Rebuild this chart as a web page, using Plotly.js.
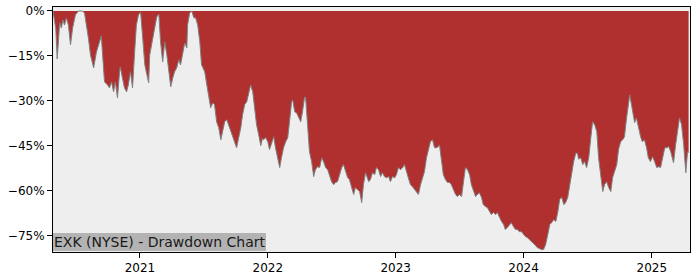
<!DOCTYPE html>
<html>
<head>
<meta charset="utf-8">
<script src="https://cdn.plot.ly/plotly-3.0.1.min.js"></script>
<style>html,body{margin:0;padding:0;background:#fff;}#chart{width:700px;height:280px;}</style>
</head>
<body>
<div id="chart"></div>
<script>
const dates = [
"2020-04-28","2020-05-02","2020-05-06","2020-05-10","2020-05-13","2020-05-17","2020-05-22","2020-05-26","2020-05-31","2020-06-05","2020-06-11","2020-06-17","2020-06-23","2020-07-01","2020-07-10","2020-07-21","2020-07-27","2020-08-02","2020-08-07","2020-08-13","2020-08-22","2020-08-30","2020-09-05","2020-09-13","2020-09-16","2020-09-22","2020-10-01","2020-10-06","2020-10-12","2020-10-18","2020-10-23","2020-10-29","2020-11-04","2020-11-06","2020-11-12","2020-11-18","2020-11-24","2020-11-29","2020-12-05","2020-12-11","2020-12-17","2020-12-22","2020-12-28",
"2021-01-03","2021-01-09","2021-01-15","2021-01-21","2021-01-26","2021-01-29","2021-02-07","2021-02-12","2021-02-18","2021-02-24","2021-03-01","2021-03-07","2021-03-13","2021-03-19","2021-03-24","2021-03-30","2021-04-05","2021-04-10","2021-04-16","2021-04-22","2021-04-27","2021-05-03","2021-05-09","2021-05-15","2021-05-17","2021-05-23","2021-05-29","2021-06-04","2021-06-09","2021-06-15","2021-06-21","2021-06-26","2021-07-05","2021-07-11","2021-07-16","2021-07-22","2021-07-28","2021-08-02","2021-08-08","2021-08-14","2021-08-20","2021-08-25","2021-08-31","2021-09-06","2021-09-11","2021-09-17","2021-09-23","2021-09-28","2021-10-04","2021-10-10","2021-10-16","2021-10-21","2021-10-27","2021-11-02","2021-11-07","2021-11-13","2021-11-19","2021-11-25","2021-11-30","2021-12-06","2021-12-12","2021-12-17","2021-12-20","2021-12-26",
"2022-01-01","2022-01-06","2022-01-12","2022-01-18","2022-01-23","2022-01-29","2022-02-04","2022-02-09","2022-02-15","2022-02-21","2022-02-27","2022-03-04","2022-03-10","2022-03-13","2022-03-19","2022-03-24","2022-03-30","2022-04-05","2022-04-10","2022-04-16","2022-04-19","2022-04-25","2022-04-30","2022-05-06","2022-05-12","2022-05-17","2022-05-23","2022-05-29","2022-06-04","2022-06-09","2022-06-15","2022-06-21","2022-06-26","2022-07-02","2022-07-08","2022-07-13","2022-07-19","2022-07-25","2022-07-31","2022-08-05","2022-08-11","2022-08-17","2022-08-22","2022-08-28","2022-09-03","2022-09-08","2022-09-14","2022-09-20","2022-09-26","2022-10-01","2022-10-07","2022-10-13","2022-10-16","2022-10-21","2022-10-27","2022-11-02","2022-11-07","2022-11-13","2022-11-19","2022-11-24","2022-11-30","2022-12-06","2022-12-12","2022-12-17","2022-12-23","2022-12-29",
"2023-01-03","2023-01-09","2023-01-15","2023-01-21","2023-01-26","2023-02-01","2023-02-07","2023-02-12","2023-02-18","2023-02-24","2023-03-01","2023-03-07","2023-03-13","2023-03-19","2023-03-24","2023-03-30","2023-04-05","2023-04-10","2023-04-16","2023-04-22","2023-04-27","2023-05-03","2023-05-06","2023-05-12","2023-05-17","2023-05-23","2023-05-29","2023-06-04","2023-06-09","2023-06-15","2023-06-21","2023-06-26","2023-07-02","2023-07-08","2023-07-13","2023-07-19","2023-07-25","2023-07-31","2023-08-05","2023-08-11","2023-08-17","2023-08-22","2023-08-28","2023-09-03","2023-09-08","2023-09-14","2023-09-20","2023-09-26","2023-10-01","2023-10-07","2023-10-13","2023-10-18","2023-10-24","2023-10-30","2023-11-05","2023-11-10","2023-11-16","2023-11-22","2023-11-27","2023-12-03","2023-12-09","2023-12-14","2023-12-20","2023-12-26",
"2024-01-01","2024-01-06","2024-01-12","2024-01-18","2024-01-23","2024-01-29","2024-02-04","2024-02-09","2024-02-15","2024-02-21","2024-02-27","2024-03-04","2024-03-10","2024-03-16","2024-03-21","2024-03-27","2024-04-02","2024-04-08","2024-04-13","2024-04-19","2024-04-25","2024-04-30","2024-05-06","2024-05-12","2024-05-17","2024-05-23","2024-05-29","2024-06-03","2024-06-06","2024-06-12","2024-06-18","2024-06-23","2024-06-29","2024-07-05","2024-07-11","2024-07-16","2024-07-22","2024-07-28","2024-08-02","2024-08-08","2024-08-14","2024-08-19","2024-08-25","2024-08-31","2024-09-06","2024-09-11","2024-09-17","2024-09-23","2024-09-28","2024-10-04","2024-10-10","2024-10-15","2024-10-21","2024-10-27","2024-10-30","2024-11-04","2024-11-10","2024-11-13","2024-11-18","2024-11-24","2024-11-30","2024-12-05","2024-12-11","2024-12-17","2024-12-22","2024-12-28",
"2025-01-03","2025-01-09","2025-01-15","2025-01-21","2025-01-26","2025-02-01","2025-02-07","2025-02-12","2025-02-18","2025-02-24","2025-03-01","2025-03-04","2025-03-10","2025-03-16","2025-03-21","2025-03-27","2025-04-02","2025-04-08","2025-04-13","2025-04-16"
];
const drawdownPct = [
0,-3,-6,-16,-9,-4,-5.7,-3,-4.7,-2.3,-4.7,-11.3,-5.7,-1.3,0,0,-0.7,-4.7,-9,-14.7,-19,-13.7,-11.3,-8.3,-13.7,-23.7,-24.7,-25.7,-23.7,-27,-23.7,-29,-20.3,-18.7,-22.3,-25.7,-27,-24.7,-20.3,-25.7,-13.7,-4.7,-1.3,
-0.3,-9,-18,-21.3,-24,-14.7,-9,-6,-2,-1,-10.3,-17,-10.3,-14.7,-20.3,-25.3,-22.3,-20.3,-19,-16.3,-18,-14.7,-10.7,-12.3,-4.7,-0.7,0,-2.3,-2.3,-4.7,-10.3,-18,-20.3,-24.7,-28,-32.3,-30.7,-31.3,-37,-39,-43,-40.7,-37,-36.3,-38,-40.3,-42,-43.7,-45.7,-42.3,-39,-34.7,-31.3,-30.3,-28,-24.7,-27,-32.3,-38,-41.3,-45,-42.5,-43,-42.3,
-43.7,-46.3,-43.7,-42,-45.7,-49,-52.3,-49,-45.7,-43.7,-42.3,-37,-30.3,-29.7,-33.7,-34,-35.7,-37,-33.7,-28.7,-29,-40.3,-47,-50.3,-55.3,-53,-52,-52.3,-49,-50.3,-52.3,-53,-54.7,-57,-58,-57.3,-57,-54.7,-52.3,-51.3,-53.7,-55.7,-56.3,-58.7,-61.3,-59,-59.7,-60.3,-64,-58,-54,-55.7,-57,-56.3,-54,-54.7,-52.3,-53,-55.3,-54,-55.3,-55.7,-55.3,-57,-55.3,-55.7,
-54.7,-52.3,-53,-52.3,-51.3,-53.7,-55.7,-58,-58.7,-59.7,-60.3,-61.3,-58,-55.3,-53.7,-49,-45.7,-43.7,-43,-45.7,-45.7,-45.3,-44.7,-50.3,-54.7,-56.3,-57.3,-57.3,-58,-59.7,-61.3,-62,-61.3,-62,-58,-52.3,-53,-54.7,-58,-60.3,-62,-61.3,-60.7,-62.3,-64.7,-65.3,-65.7,-67,-68,-67.3,-68,-67.3,-69,-70.3,-71.3,-73,-72.3,-71.3,-70.7,-72,-73,-73,-73.7,-73.7,
-74.7,-75.3,-75.7,-76.3,-77,-77.7,-78.3,-79,-79.3,-79.7,-79.7,-78,-74.7,-71.3,-70.7,-69.7,-70.3,-67,-63,-62.3,-64.7,-64,-62.3,-58,-53.7,-50.3,-47.5,-47.5,-49.5,-49,-51.3,-50.3,-52.3,-49,-42.3,-37,-38,-40.3,-49,-55.7,-60.3,-58,-57,-59,-60.3,-55.7,-53.7,-51.3,-46.3,-43.7,-43,-42,-35.7,-29,-28,-31.3,-35.7,-37.3,-35.7,-39,-42,-43.7,-43,-45.7,-49,-50.3,
-48.7,-50.3,-52.3,-52,-52.3,-49,-45.7,-45.7,-45.3,-47,-49,-50.7,-44.7,-39,-35.7,-38,-44.7,-54,-47,-47.3
];
const xTickVals = ["2021-01-01","2022-01-01","2023-01-01","2024-01-01","2025-01-01"];
const xTickText = ["2021","2022","2023","2024","2025"];
const yTickVals = [0,-15,-30,-45,-60,-75];
const yTickText = ["0%","\u221215%","\u221230%","\u221245%","\u221260%","\u221275%"];
const chartLabel = "EXK (NYSE) - Drawdown Chart";

const font = {family: "DejaVu Sans", size: 12, color: "#000"};
const trace = {
  type: "scatter", mode: "lines", x: dates, y: drawdownPct,
  line: {color: "#808080", width: 1},
  fill: "tozeroy", fillcolor: "#b03030", hoverinfo: "skip"
};
const layout = {
  width: 700, height: 280,
  margin: {l: 53, r: 10, t: 7, b: 28},
  paper_bgcolor: "#ffffff", plot_bgcolor: "#eeeeee",
  showlegend: false, font: font,
  xaxis: {
    type: "date", range: ["2020-04-28", "2025-04-20"],
    tickmode: "array", tickvals: xTickVals, ticktext: xTickText,
    ticks: "outside", ticklen: 5, tickwidth: 1, tickcolor: "#000",
    showline: true, linecolor: "#000", linewidth: 1, mirror: true,
    showgrid: false, zeroline: false, tickfont: font
  },
  yaxis: {
    range: [-80.5, 1.33],
    tickmode: "array", tickvals: yTickVals, ticktext: yTickText,
    ticks: "outside", ticklen: 5, tickwidth: 1, tickcolor: "#000",
    showline: true, linecolor: "#000", linewidth: 1, mirror: true,
    showgrid: false, zeroline: false, tickfont: font
  },
  annotations: [{
    text: chartLabel, xref: "paper", yref: "paper", x: 0, y: 0,
    xanchor: "left", yanchor: "bottom", showarrow: false,
    bgcolor: "#b3b3b3", borderpad: 1, borderwidth: 0, yshift: 1,
    font: {family: "DejaVu Sans", size: 14, color: "#1a1a1a"}
  }]
};
Plotly.newPlot("chart", [trace], layout, {staticPlot: true, displayModeBar: false});
</script>
</body>
</html>
